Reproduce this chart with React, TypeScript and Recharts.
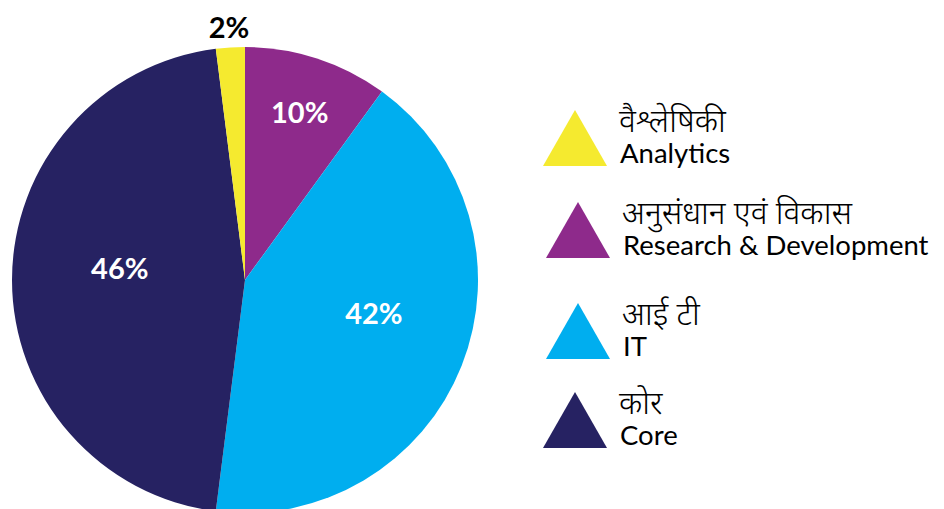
import { Pie, PieChart, Cell, Legend } from 'recharts';

const categories = ['Research & Development', 'IT', 'Core', 'Analytics'];
const hindiNames = ['अनुसंधान एवं विकास', 'आई टी', 'कोर', 'वैश्लेषिकी'];
const shares = [10, 42, 46, 2];
const colors = ['#8e2a8b', '#00aeef', '#262262', '#f5ea2f'];
const legendOrder = [3, 0, 1, 2];

const data = categories.map((name, i) => ({
  name,
  hindi: hindiNames[i],
  value: shares[i],
  color: colors[i],
}));

const RADIAN = Math.PI / 180;
// label distance (share of radius) and angle nudge per slice
const labelRadius = [0.76, 0.57, 0.54, 1.09];
const labelAngleShift = [0, 7.6, -5.7, 0];

const renderLabel = (props: any) => {
  const { cx, cy, midAngle, outerRadius, index, value } = props;
  const r = outerRadius * labelRadius[index];
  const a = (midAngle + labelAngleShift[index]) * RADIAN;
  const x = cx + r * Math.cos(-a);
  const y = cy + r * Math.sin(-a);
  return (
    <text
      x={x}
      y={y}
      fill={index === 3 ? '#000000' : '#ffffff'}
      textAnchor='middle'
      dominantBaseline='central'
      fontFamily='Lato, sans-serif'
      fontWeight='bold'
      fontSize={29}
    >
      {`${value}%`}
    </text>
  );
};

// triangle apex y and left x for each legend row
const legendTops = [110, 202, 303, 392];
const legendLefts = [543, 546, 546, 543];

const CustomLegend = () => (
  <svg width={414} height={360}>
    {legendOrder.map((idx, i) => {
      const d = data[idx];
      const top = legendTops[i] - 100;
      const left = legendLefts[i] - 530;
      return (
        <g key={d.name}>
          <polygon
            points={`${left + 32},${top} ${left},${top + 56} ${left + 64},${top + 56}`}
            fill={d.color}
          />
          <text
            x={left + 76}
            y={top + 22}
            fontFamily="'Noto Sans Devanagari', 'Noto Sans', sans-serif"
            fontWeight={300}
            fontSize={32}
            fill='#000'
          >
            {d.hindi}
          </text>
          <text
            x={left + 77}
            y={top + 53}
            fontFamily='Lato, sans-serif'
            fontSize={27.5}
            fill='#000'
          >
            {d.name}
          </text>
        </g>
      );
    })}
  </svg>
);

export default function App() {
  return (
    <div style={{ position: 'absolute', left: 0, top: 0, background: '#fff' }}>
      <PieChart
        width={944}
        height={509}
        margin={{ top: 0, right: 0, bottom: 0, left: 0 }}
      >
        <Pie
          data={data}
          dataKey='value'
          nameKey='name'
          cx={245}
          cy={280}
          outerRadius={233}
          startAngle={90}
          endAngle={-270}
          stroke='none'
          label={renderLabel}
          labelLine={false}
          isAnimationActive={false}
        >
          {data.map((d) => (
            <Cell key={d.name} fill={d.color} />
          ))}
        </Pie>
        <Legend
          layout='vertical'
          content={<CustomLegend />}
          wrapperStyle={{ position: 'absolute', left: 530, top: 100, width: 414 }}
        />
      </PieChart>
    </div>
  );
}
